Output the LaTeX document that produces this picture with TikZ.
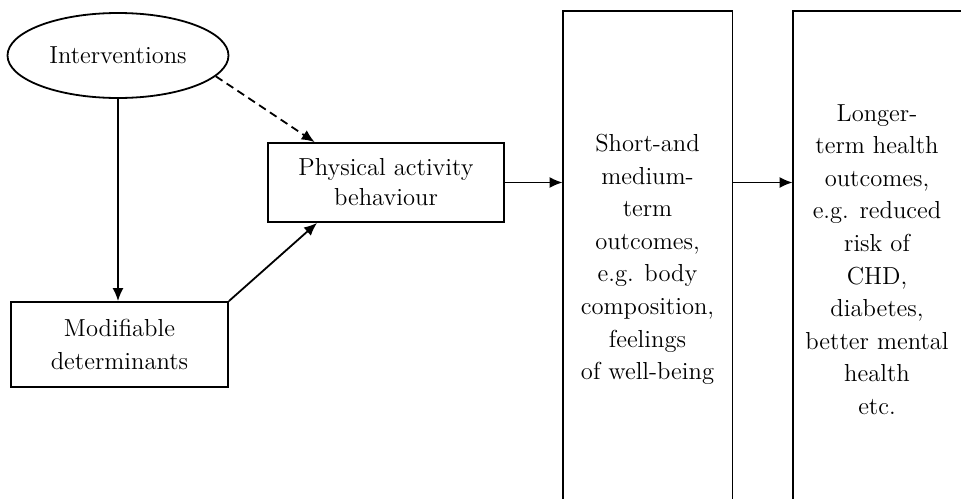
\documentclass[tikz,border=0pt]{standalone}
\usetikzlibrary{shapes.geometric,arrows.meta,calc}
\begin{document}
\begin{tikzpicture}[x=0.5pt,y=-0.5pt,
  txt/.style={font=\fontsize{12.3}{16.3}\selectfont, align=center},
  box/.style={draw, line width=0.9pt, inner sep=0pt, txt},
  tall/.style={txt, inner sep=0pt},
  arr/.style={line width=0.9pt, -{Latex[length=6.5pt,width=5.5pt]}},
  ln/.style={line width=0.9pt}]
\useasboundingbox (0,0) rectangle (961,498);
\node[ellipse, draw, line width=0.9pt, minimum width=110.5pt, minimum height=42.5pt, inner sep=0pt, txt] (int) at (118,55.5) {Interventions};
\node[box, minimum width=108.5pt, minimum height=42.5pt] (mod) at (119.5,344.5) {Modifiable\\determinants};
\node[box, minimum width=118pt, minimum height=39.5pt, font=\fontsize{12.3}{15}\selectfont] (pa) at (386,182.5) {Physical activity\\behaviour};
\node[tall, minimum width=84.5pt, minimum height=248.5pt] (so) at (647.5,259.5) {Short-and\\medium-\\term\\outcomes,\\e.g. body\\composition,\\feelings\\of well-being};
\draw[ln] (so.south west) -- (so.north west) -- (so.north east) -- (so.south east);
\node[tall, minimum width=84pt, minimum height=248.5pt] (lo) at (877,259.5) {Longer-\\term health\\outcomes,\\e.g. reduced\\risk of\\CHD,\\diabetes,\\better mental\\health\\etc.};
\draw[ln] (lo.south west) -- (lo.north west) -- (lo.north east);
\coordinate (patop) at ($(pa.north west)!0.2!(pa.north east)$);
\coordinate (pabot) at ($(pa.south west)!0.21!(pa.south east)$);
\draw[arr] (int.south) -- (int.south |- mod.north);
\draw[arr, dash pattern=on 4pt off 2.5pt] (int.-12) -- (patop);
\draw[arr] (mod.north east) -- (pabot);
\draw[arr] (pa.east) -- (pa.east -| so.west);
\draw[arr] (so.east |- pa.east) -- (pa.east -| lo.west);
\end{tikzpicture}
\end{document}
